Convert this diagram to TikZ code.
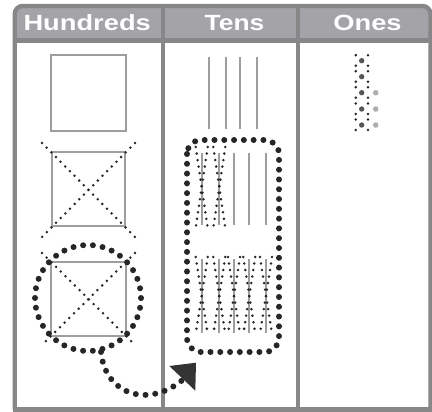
\documentclass[tikz,border=0pt]{standalone}
\usepackage{fontspec}
\setmainfont{Liberation Sans}
\usepackage{graphicx}
\definecolor{framec}{RGB}{135,135,135}
\definecolor{headfill}{RGB}{163,163,168}
\definecolor{sketch}{RGB}{158,158,158}
\definecolor{dotc}{RGB}{38,38,38}
\definecolor{unitc}{RGB}{85,85,85}
\definecolor{newunit}{RGB}{175,175,175}
\definecolor{arrowc}{RGB}{52,52,52}
\begin{document}
\begin{tikzpicture}[x=1pt,y=-1pt,
  frameline/.style={draw=framec,line width=4.4pt},
  headtext/.style={text=white,font=\bfseries\fontsize{22}{22}\selectfont,anchor=base,inner sep=0pt},
  sq/.style={draw=sketch,line width=2pt},
  rod/.style={draw=sketch,line width=2pt},
  smalldots/.style={draw=dotc,line width=2.8pt,line cap=round,dash pattern=on 0pt off 6.6pt},
  bigdots/.style={draw=dotc,line width=6pt,line cap=round,dash pattern=on 0pt off 9.79pt},
  unitdot/.style={fill=unitc},
  tinydot/.style={fill=dotc},
  newdot/.style={fill=newunit}]
\useasboundingbox (0,0) rectangle (432,412);
\fill[white] (0,0) rectangle (432,412);
% header band
\fill[headfill,rounded corners=8pt] (14.7,40.5) -- (14.7,6) -- (430.5,6) -- (430.5,40.5) -- cycle;
\fill[headfill] (14.7,20) rectangle (430.5,40.5);
% frame
\draw[frameline,rounded corners=8pt] (14.7,409.5) -- (14.7,6) -- (430.5,6) -- (430.5,409.5);
\draw[frameline,line cap=rect] (14.7,409.5) -- (430.5,409.5);
\draw[frameline] (14.7,40.5) -- (430.5,40.5);
\draw[frameline] (163,6) -- (163,409.5);
\draw[frameline] (297.7,6) -- (297.7,409.5);
% header texts
\node[headtext] (hh) at (87.2,30.7) {\scalebox{1.24}[1]{Hundreds}};
\node[headtext] (ht) at (234.5,30.7) {\scalebox{1.2}[1]{Tens}};
\node[headtext] (ho) at (367.5,30.7) {\scalebox{1.24}[1]{Ones}};
% hundreds
\draw[sq] (51,55) rectangle (126,131);
\draw[sq] (52,152) rectangle (125,226);
\draw[sq] (51,262) rectangle (126,336);
\draw[smalldots] (42,143) -- (135,237);
\draw[smalldots] (135,143) -- (42,237);
\draw[smalldots] (42,253) -- (135,345);
\draw[smalldots] (135,253) -- (42,345);
\draw[bigdots] (88,298) circle[radius=53pt];
% regroup arrow
\coordinate (tailstart) at (101,352);
\coordinate (tailend) at (186,377);
\draw[bigdots] (tailstart) .. controls (105,395) and (150,410) .. (tailend);
\fill[arrowc] (196,362.7) -- (169.3,366) -- (195.3,390.7) -- cycle;
% tens: plain rods
\foreach \x in {209,226,240,256.7} \draw[rod] (\x,57) -- (\x,129);
% regrouped tens box
\draw[bigdots,rounded corners=14pt] (187,140) rectangle (279,352);
\foreach \x in {201.7,219.3,234,249.3,266} \draw[rod] (\x,153) -- (\x,225);
\foreach \x in {201.7,219.3} {
  \draw[smalldots] (\x-6,147) -- (\x+6,228);
  \draw[smalldots] (\x+6,147) -- (\x-6,228);
}
\foreach \x in {201.7,219.3,234,249.3,266} {
  \draw[rod] (\x,259) -- (\x,333);
  \draw[smalldots] (\x-6,257) -- (\x+6,334);
  \draw[smalldots] (\x+6,257) -- (\x-6,334);
}
% ones
\foreach \y in {60.7,76.7,92.7,109,125} {
  \fill[tinydot] (355.8,\y-5.5) circle[radius=1.4pt];
  \fill[tinydot] (368,\y-5.5) circle[radius=1.4pt];
  \fill[tinydot] (355.8,\y+5) circle[radius=1.4pt];
  \fill[tinydot] (368,\y+5) circle[radius=1.4pt];
  \fill[unitdot] (361.7,\y) circle[radius=2.7pt];
}
\foreach \y in {92.7,109,125} \fill[newdot] (375.7,\y) circle[radius=2.8pt];
\end{tikzpicture}
\end{document}
